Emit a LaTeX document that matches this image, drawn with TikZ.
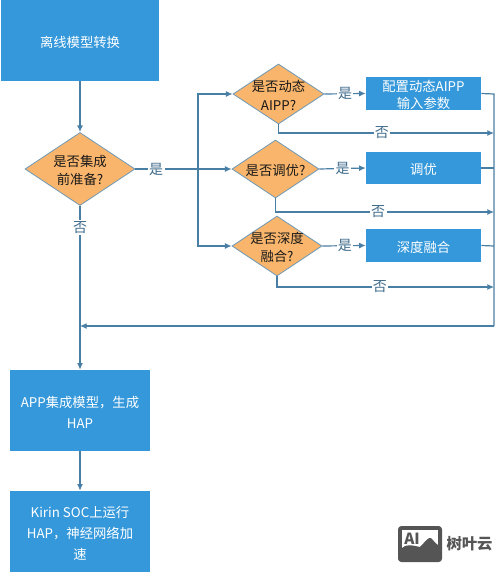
\documentclass[tikz,border=0pt]{standalone}
\usepackage{fontspec}
\setmainfont{Noto Sans CJK SC}
\usetikzlibrary{shapes.geometric,arrows.meta}
\definecolor{boxblue}{HTML}{3498DB}
\definecolor{dia}{HTML}{F9B56B}
\definecolor{line}{HTML}{4A7FA5}
\definecolor{logo}{HTML}{555555}
\tikzset{
  x=0.75pt,y=-0.75pt,
  bluebox/.style={draw=none,fill=boxblue,minimum width=#1*0.75pt,inner sep=0pt},
  boxtext/.style={label={[text=white,font=\fontsize{10}{15.75}\selectfont,align=center,inner sep=0pt,yshift=-1.1pt]center:#1}},
  smalltext/.style={label={[text=white,font=\fontsize{10}{13}\selectfont,align=center,inner sep=0pt,yshift=-1.1pt]center:#1}},
  dec/.style={diamond,draw=line!80,line width=0.6pt,fill=dia,inner sep=0pt,
    label={[text=black!90,font=\fontsize{10}{14}\selectfont,align=center,inner sep=0pt,yshift=-1.1pt]center:#1}},
  conn/.style={draw=line,line width=0.9pt,-{Latex[length=5pt,width=4.5pt]}},
  plainconn/.style={draw=line,line width=0.9pt},
  lab/.style={fill=white,text=line!85!black,font=\fontsize{10.5}{12}\selectfont,inner sep=1pt},
}
\begin{document}
\begin{tikzpicture}
\useasboundingbox (0,0) rectangle (500,573);
\fill[white] (0,0) rectangle (500,573);
% process boxes
\node[bluebox=158,minimum height=60.75pt,boxtext={离线模型转换}] (start) at (80,40.5) {};
\node[bluebox=140,minimum height=60.75pt,boxtext={APP集成模型，生成\\HAP}] (app) at (80,410.5) {};
\node[bluebox=140,minimum height=60.75pt,boxtext={Kirin SOC上运行\\HAP，神经网络加\\速}] (kirin) at (80,531.5) {};
\node[bluebox=115,minimum height=24.75pt,smalltext={配置动态AIPP\\输入参数}] (cfg) at (423.5,93.5) {};
\node[bluebox=115,minimum height=24pt,boxtext={调优}] (tune) at (423.5,168) {};
\node[bluebox=115,minimum height=24.75pt,boxtext={深度融合}] (fuse) at (423.5,245.5) {};
% decisions
\node[dec={是否集成\\前准备?},minimum width=82.5pt,minimum height=54.75pt] (d0) at (80,169) {};
\node[dec={是否动态\\AIPP?},minimum width=68.25pt,minimum height=45pt] (d1) at (278.5,94) {};
\node[dec={是否调优?},minimum width=65.25pt,minimum height=43.5pt] (d2) at (275.5,169) {};
\node[dec={是否深度\\融合?},minimum width=67.5pt,minimum height=45pt] (d3) at (277,246) {};
% free coordinates
\coordinate (busT) at (198,94);
\coordinate (busM) at (198,169);
\coordinate (busB) at (198,246);
\coordinate (rTop) at (494,94);
\coordinate (rTune) at (494,168);
\coordinate (rFuse) at (494,246);
\coordinate (rEnd) at (494,326);
\coordinate (n1) at (494,133);
\coordinate (n2) at (494,212);
\coordinate (n3) at (494,287);
\coordinate (ret) at (80,326);
% connectors
\draw[conn] (start) -- (d0);
\draw[conn] (d0.east) -- (d2.west) node[lab,pos=0.216] {是};
\draw[conn] (busM) -- (busT) -- (d1.west);
\draw[conn] (busM) -- (busB) -- (d3.west);
\draw[conn] (d1.east) -- (cfg.west) node[lab,midway] {是};
\draw[conn] (d2.east) -- (tune.west) node[lab,pos=0.5] {是};
\draw[conn] (d3.east) -- (fuse.west) node[lab,pos=0.52] {是};
\draw[conn] (d1.south) |- (n1) node[lab,pos=0.74] {否};
\draw[conn] (d2.south) |- (n2) node[lab,pos=0.735] {否};
\draw[conn] (d3.south) |- (n3) node[lab,pos=0.737] {否};
\draw[plainconn] (cfg.east) -- (rTop) -- (rEnd);
\draw[plainconn] (tune.east) -- (rTune);
\draw[plainconn] (fuse.east) -- (rFuse);
\draw[conn] (rEnd) -- (ret);
\draw[conn] (d0.south) -- (app.north) node[lab,pos=0.13] {否};
\draw[conn] (app) -- (kirin);
% logo
\fill[logo,rounded corners=2.5pt] (398,526) rectangle (442,562);
\fill[white] (402,530) rectangle (438,552);
\fill[logo] (402,548) .. controls (408,543) and (414,546) .. (420,547) .. controls (425,542) and (428,537) .. (431,538) .. controls (433,540) and (436,544) .. (438,545) -- (438,553) -- (402,553) -- cycle;
\node[font=\fontsize{11.5}{12}\bfseries\selectfont,text=logo,inner sep=0pt] (ailogo) at (412,539) {AI};
\node[font=\fontsize{11.5}{12}\bfseries\selectfont,text=logo,inner sep=0pt] (brand) at (469.5,544) {树叶云};
\end{tikzpicture}
\end{document}
